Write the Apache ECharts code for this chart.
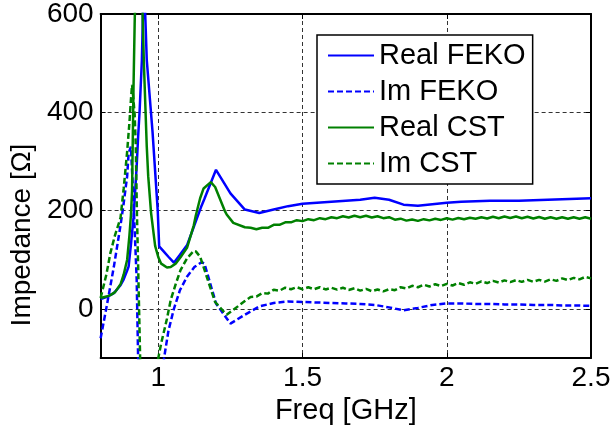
<!DOCTYPE html>
<html><head><meta charset="utf-8">
<script src="https://cdn.jsdelivr.net/npm/echarts@6/dist/echarts.min.js"></script>
<style>html,body{margin:0;padding:0;background:#fff;}#c{width:614px;height:432px;}</style>
</head><body><div id="c"></div>
<script>
const xTicks = [1, 1.5, 2, 2.5];
const yTicks = [0, 200, 400, 600];
const seriesNames = ['Real FEKO', 'Im FEKO', 'Real CST', 'Im CST'];

const fekoFreq = [0.8, 0.82, 0.846, 0.869, 0.88, 0.892, 0.897, 0.905, 0.914, 0.925, 0.93, 0.935, 0.943, 0.95, 0.96, 0.98, 0.998, 1.003, 1.02, 1.035, 1.054, 1.075, 1.1, 1.125, 1.15, 1.16, 1.2, 1.25, 1.3, 1.35, 1.4, 1.45, 1.5, 1.55, 1.6, 1.65, 1.7, 1.75, 1.8, 1.85, 1.9, 1.95, 2.0, 2.05, 2.1, 2.15, 2.2, 2.25, 2.3, 2.35, 2.4, 2.45, 2.5];
const realFeko = [20, 24, 32, 48, 60, 78, 86, 130, 185, 290, 350, 400, 506, 680, 506, 360, 200, 127, 116, 106, 94, 110, 130, 170, 210, 224, 283, 235, 202, 195, 202, 209, 214, 216, 218, 220, 222, 226, 222, 212, 210, 213, 216, 218, 219, 220, 220, 220, 221, 222, 223, 224, 225];
const imFeko = [-60, 2, 86, 170, 215, 270, 317, 330, 220, 60, -100, -300, -600, -800, -700, -450, -250, -220, -100, -45, 0, 38, 66, 85, 95, 92, 11, -30, -12, 5, 12, 15, 14, 13, 12, 11, 10, 8, 3, -3, 2, 8, 11, 11, 10, 10, 9, 9, 8, 8, 7, 7, 6];

const cstFreq = [0.80, 0.82, 0.834, 0.85, 0.869, 0.88, 0.892, 0.9, 0.905, 0.909, 0.914, 0.918, 0.922, 0.926, 0.93, 0.937, 0.945, 0.95, 0.96, 0.965, 0.975, 0.989, 1.0, 1.01, 1.03, 1.043, 1.06, 1.077, 1.1, 1.123, 1.13, 1.145, 1.157, 1.182, 1.197, 1.2, 1.23, 1.237, 1.26, 1.3,
  1.32, 1.34, 1.36, 1.38, 1.40, 1.42, 1.44, 1.46, 1.48, 1.50, 1.52, 1.54, 1.56, 1.58, 1.60, 1.62, 1.64, 1.66, 1.68, 1.70, 1.72, 1.74, 1.76, 1.78, 1.80, 1.82, 1.84, 1.86, 1.88, 1.90, 1.92, 1.94, 1.96, 1.98, 2.00, 2.02, 2.04, 2.06, 2.08, 2.10, 2.12, 2.14, 2.16, 2.18, 2.20, 2.22, 2.24, 2.26, 2.28, 2.30, 2.32, 2.34, 2.36, 2.38, 2.40, 2.42, 2.44, 2.46, 2.48, 2.50];
const realCst = [22, 25, 28, 34, 50, 70, 100, 150, 190, 240, 450, 580, 690, 760, 760, 700, 610, 500, 330, 270, 195, 128, 105, 92, 84, 85, 92, 105, 125, 170, 190, 225, 245, 258, 248, 244, 200, 192, 175, 166,
  165, 162, 165, 165, 171, 171, 176, 176, 180.5, 178.5, 182.5, 180.5, 184.5, 182.5, 186.5, 184.5, 188.5, 186, 189.5, 186.5, 189.5, 186, 188.5, 184.5, 186.5, 181.5, 183.5, 179.5, 182, 179, 182.5, 180, 183.5, 181, 184.5, 181.5, 185, 182.5, 185.5, 183.5, 186.5, 184, 187.5, 184.5, 188, 185, 188, 184.5, 187.5, 184, 187, 183.5, 186.5, 183.5, 186.5, 183.5, 186.5, 183.5, 186.5, 183.5];
const imCst = [22, 70, 114, 150, 185, 245, 320, 380, 425, 456, 425, 395, 330, 190, 90, -100, -400, -500, -450, -400, -300, -180, -100, -70, -20, 18, 50, 79, 103, 118, 117, 106, 85, 40, 14, 10, -8, -12, -2, 16,
  24, 25, 32, 31, 39, 37, 43, 40, 44, 40, 44, 40, 44, 39.5, 43, 39, 43, 38.5, 42, 37, 40.5, 36, 39.5, 35.5, 40, 38, 44, 41.5, 47, 44, 49, 45.5, 50, 46.5, 51, 47.5, 52.5, 49, 54, 51, 56, 52.5, 57, 53.5, 58, 54.5, 58.5, 55, 59, 55, 59, 55.5, 60, 57, 62, 58.5, 63, 60, 65, 62];

function zip(xs, ys) { return xs.map((x, i) => [x, ys[i]]); }

const FONT = 'Liberation Sans, Arial, Helvetica, sans-serif';
const BLUE = '#0000ff', GREEN = '#008000';
const DASH = [6, 3];

const chart = echarts.init(document.getElementById('c'), null, {renderer: 'canvas'});

const splitLineStyle = {show: true, lineStyle: {color: '#333', width: 1, type: [4, 3]}};
const axisLineStyle = {show: true, onZero: false, lineStyle: {color: '#000', width: 2}};

chart.setOption({
  animation: false,
  backgroundColor: '#fff',
  textStyle: {fontFamily: FONT},
  grid: {left: 97, right: 23, top: 14, bottom: 74, containLabel: false},
  legend: {
    orient: 'vertical', left: 317, top: 35,
    data: seriesNames,
    backgroundColor: '#fff', borderColor: '#000', borderWidth: 1.5, borderRadius: 0,
    padding: [6, 7, 6, 10],
    itemWidth: 46, itemHeight: 14, itemGap: 7,
    itemStyle: {opacity: 0},
    textStyle: {fontFamily: FONT, fontSize: 29, color: '#000'}
  },
  xAxis: [{
    type: 'value', min: 0.8, max: 2.5, position: 'bottom',
    name: 'Freq [GHz]', nameLocation: 'middle', nameGap: 35,
    nameTextStyle: {fontFamily: FONT, fontSize: 29, color: '#000'},
    axisLine: axisLineStyle,
    axisTick: {show: true, inside: true, length: 5, customValues: xTicks, lineStyle: {color: '#000', width: 1}},
    axisLabel: {show: true, customValues: xTicks, margin: 6, fontFamily: FONT, fontSize: 28, color: '#000',
      formatter: v => String(v)},
    splitLine: splitLineStyle
  }, {
    type: 'value', min: 0.8, max: 2.5, position: 'top',
    axisLine: axisLineStyle,
    axisTick: {show: true, inside: true, length: 5, customValues: xTicks, lineStyle: {color: '#000', width: 1}},
    axisLabel: {show: false},
    splitLine: {show: false}
  }],
  yAxis: [{
    type: 'value', min: -100, max: 600, position: 'left',
    name: 'Impedance [Ω]', nameLocation: 'middle', nameGap: 61, nameRotate: 90,
    nameTextStyle: {fontFamily: FONT, fontSize: 28, color: '#000', padding: [0, 98, 0, 0]},
    axisLine: axisLineStyle,
    axisTick: {show: true, inside: true, length: 5, customValues: yTicks, lineStyle: {color: '#000', width: 1}},
    axisLabel: {show: true, customValues: yTicks, margin: 7, fontFamily: FONT, fontSize: 28, color: '#000'},
    splitLine: splitLineStyle
  }, {
    type: 'value', min: -100, max: 600, position: 'right',
    axisLine: axisLineStyle,
    axisTick: {show: true, inside: true, length: 5, customValues: yTicks, lineStyle: {color: '#000', width: 1}},
    axisLabel: {show: false},
    splitLine: {show: false}
  }],
  series: [
    {name: seriesNames[0], type: 'line', data: zip(fekoFreq, realFeko), symbol: 'none', clip: true,
      lineStyle: {color: BLUE, width: 2.5, type: 'solid'}, itemStyle: {color: BLUE}},
    {name: seriesNames[1], type: 'line', data: zip(fekoFreq, imFeko), symbol: 'none', clip: true,
      lineStyle: {color: BLUE, width: 2.5, type: DASH}, itemStyle: {color: BLUE}},
    {name: seriesNames[2], type: 'line', data: zip(cstFreq, realCst), symbol: 'none', clip: true,
      lineStyle: {color: GREEN, width: 2.5, type: 'solid'}, itemStyle: {color: GREEN}},
    {name: seriesNames[3], type: 'line', data: zip(cstFreq, imCst), symbol: 'none', clip: true,
      lineStyle: {color: GREEN, width: 2.5, type: DASH}, itemStyle: {color: GREEN}}
  ]
});
</script>
</body></html>
